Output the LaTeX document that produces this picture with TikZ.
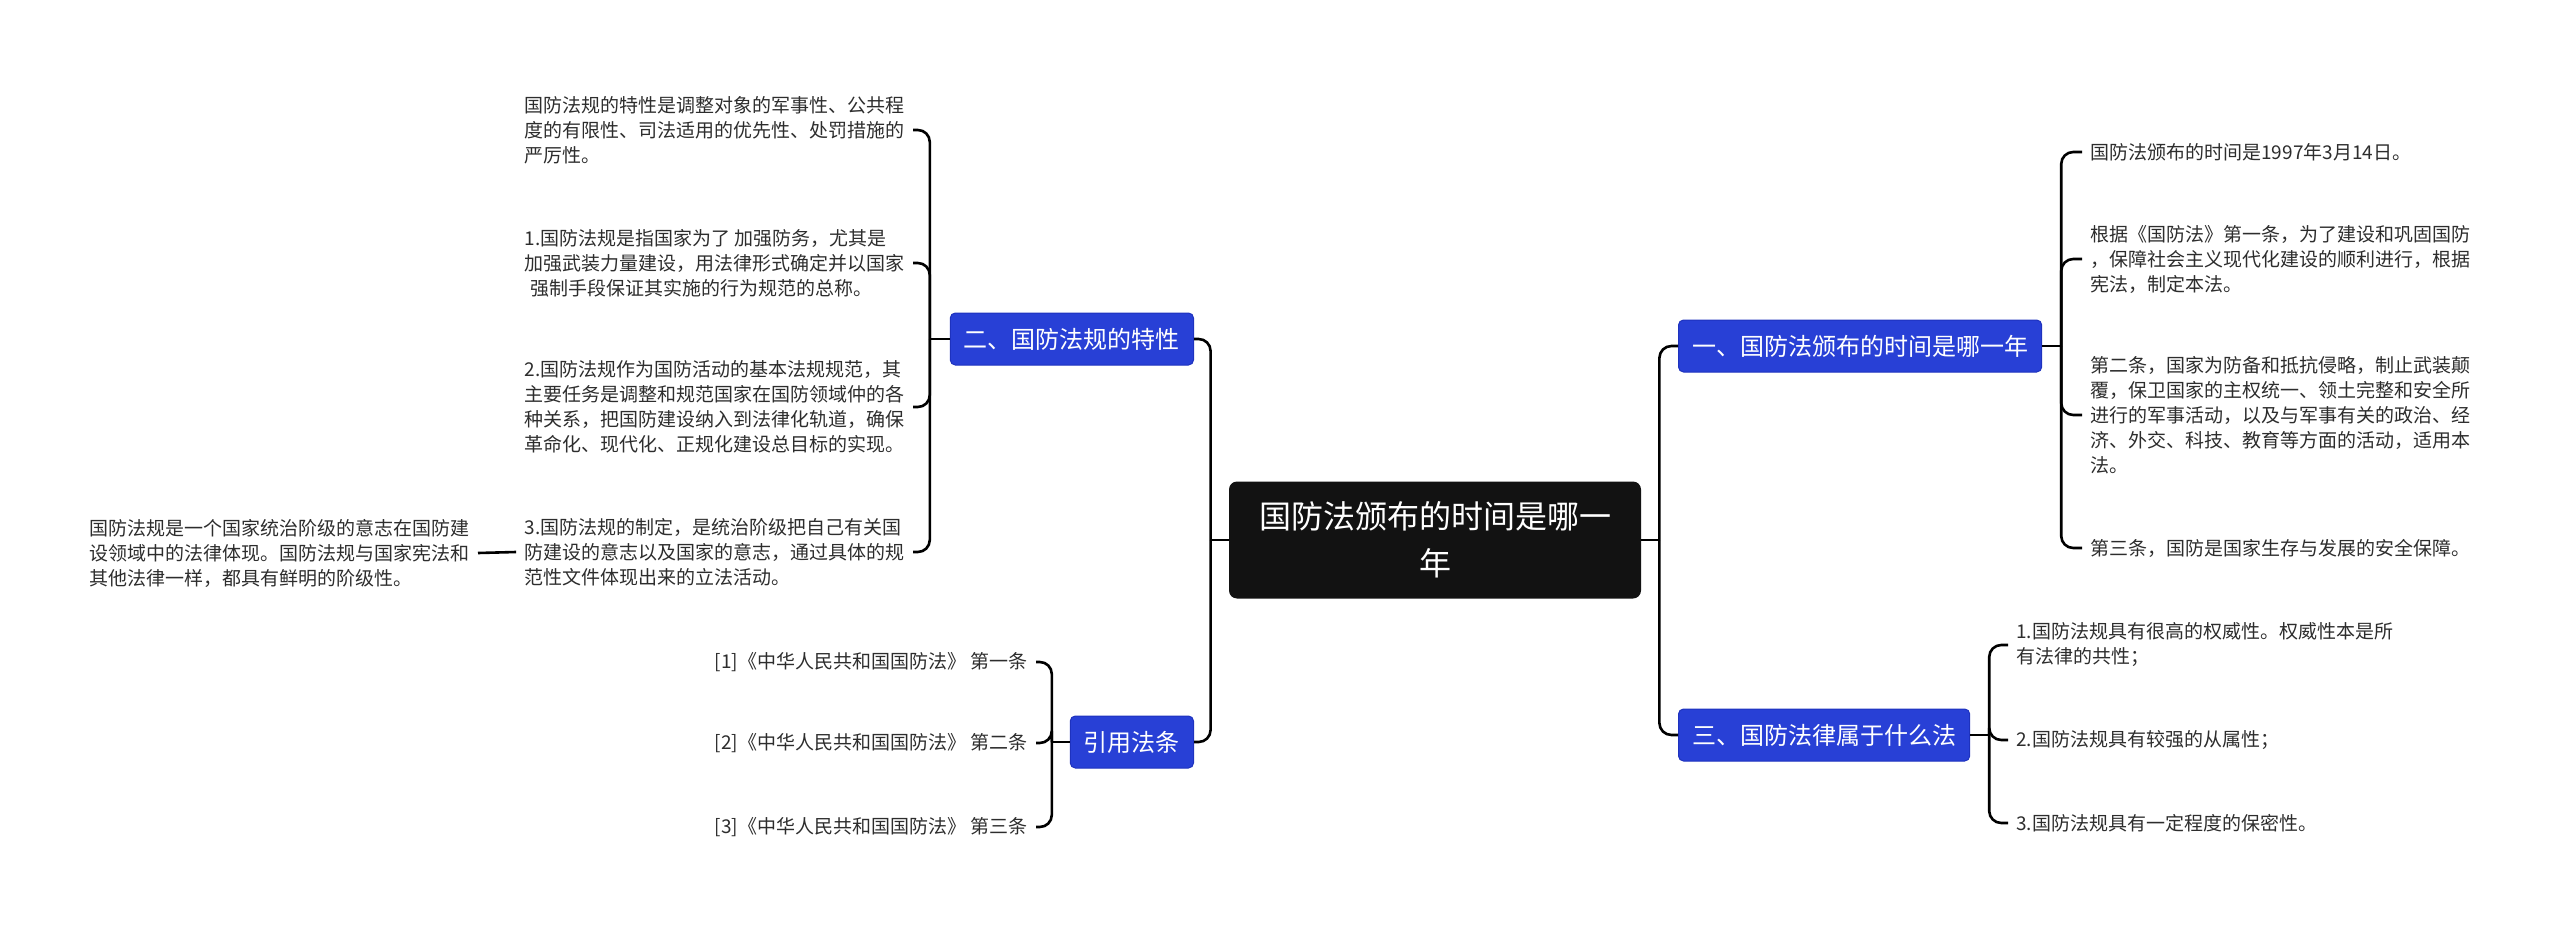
\documentclass[tikz,border=0pt]{standalone}
\usepackage{fontspec}
\setmainfont{Noto Sans CJK SC}
\definecolor{topicblue}{RGB}{40,64,214}
\definecolor{topicedge}{RGB}{30,50,190}
\definecolor{leaftext}{RGB}{45,45,45}
\tikzstyle{rootbox}=[fill=black!93, text=white, rounded corners=4pt, minimum width=206pt, minimum height=58.5pt, align=center, font=\fontsize{16pt}{23.5pt}\selectfont]
\tikzstyle{branch}=[fill=topicblue, draw=topicedge, line width=0.5pt, text=white, rounded corners=2.5pt, minimum height=26pt, inner xsep=6.8pt, font=\fontsize{12pt}{14pt}\selectfont]
\tikzstyle{leaf}=[text=leaftext, align=left, inner xsep=4pt, inner ysep=0pt, font=\fontsize{9.5pt}{12.5pt}\selectfont]
\tikzstyle{link}=[black, line width=1.3pt, rounded corners=6pt]

\begin{document}
\begin{tikzpicture}[x=0.5pt, y=-0.5pt]
				\useasboundingbox (0,0) rectangle (2560,931);
				\node[rootbox] (root) at (1435,540) {国防法颁布的时间是哪一\\年};
				\node[branch, anchor=west] (s1) at (1678,346) {一、国防法颁布的时间是哪一年};
				\node[branch, anchor=west] (s3) at (1678,735) {三、国防法律属于什么法};
				\node[branch, anchor=east] (s2) at (1194,339) {二、国防法规的特性};
				\node[branch, anchor=east] (s4) at (1194,742) {引用法条};
				\node[leaf, anchor=east] (a1) at (913,130) {国防法规的特性是调整对象的军事性、公共程\\度的有限性、司法适用的优先性、处罚措施的\\严厉性。};
				\node[leaf, anchor=east] (a2) at (913,263) {1.国防法规是指国家为了 加强防务，尤其是\\加强武装力量建设，用法律形式确定并以国家\\\hspace{0.3em}强制手段保证其实施的行为规范的总称。};
				\node[leaf, anchor=east] (a3) at (913,407) {2.国防法规作为国防活动的基本法规规范，其\\主要任务是调整和规范国家在国防领域仲的各\\种关系，把国防建设纳入到法律化轨道，确保\\革命化、现代化、正规化建设总目标的实现。};
				\node[leaf, anchor=east] (a4) at (913,552) {3.国防法规的制定，是统治阶级把自己有关国\\防建设的意志以及国家的意志，通过具体的规\\范性文件体现出来的立法活动。};
				\node[leaf, anchor=east] (a5) at (478,553) {国防法规是一个国家统治阶级的意志在国防建\\设领域中的法律体现。国防法规与国家宪法和\\其他法律一样，都具有鲜明的阶级性。};
				\node[leaf, anchor=east] (b1) at (1036,662) {[1]《中华人民共和国国防法》 第一条};
				\node[leaf, anchor=east] (b2) at (1036,743) {[2]《中华人民共和国国防法》 第二条};
				\node[leaf, anchor=east] (b3) at (1036,827) {[3]《中华人民共和国国防法》 第三条};
				\node[leaf, anchor=west] (c1) at (2082,152) {国防法颁布的时间是1997年3月14日。};
				\node[leaf, anchor=west] (c2) at (2082,259) {根据《国防法》第一条，为了建设和巩固国防\\，保障社会主义现代化建设的顺利进行，根据\\宪法，制定本法。};
				\node[leaf, anchor=west] (c3) at (2082,415) {第二条，国家为防备和抵抗侵略，制止武装颠\\覆，保卫国家的主权统一、领土完整和安全所\\进行的军事活动，以及与军事有关的政治、经\\济、外交、科技、教育等方面的活动，适用本\\法。};
				\node[leaf, anchor=west] (c4) at (2082,548) {第三条，国防是国家生存与发展的安全保障。};
				\node[leaf, anchor=west] (d1) at (2008,645) {1.国防法规具有很高的权威性。权威性本是所\\有法律的共性；};
				\node[leaf, anchor=west] (d2) at (2008,740) {2.国防法规具有较强的从属性；};
				\node[leaf, anchor=west] (d3) at (2008,823) {3.国防法规具有一定程度的保密性。};
				\draw[link] (root.west) -- ++(-18,0) coordinate (lj);
				\draw[link] (lj) |- (s2.east);
				\draw[link] (lj) |- (s4.east);
				\draw[link] (root.east) -- ++(18,0) coordinate (rj);
				\draw[link] (rj) |- (s1.west);
				\draw[link] (rj) |- (s3.west);
				\draw[link] (s2.west) -- ++(-20,0) coordinate (j2);
				\foreach \n in {a1,a2,a3,a4}
					\draw[link] (j2) |- (\n.east);
				\draw[link] (a4.west) -- (a5.east);
				\draw[link] (s4.west) -- ++(-18,0) coordinate (j4);
				\foreach \n in {b1,b2,b3}
					\draw[link] (j4) |- (\n.east);
				\draw[link] (s1.east) -- ++(19,0) coordinate (j1);
				\foreach \n in {c1,c2,c3,c4}
					\draw[link] (j1) |- (\n.west);
				\draw[link] (s3.east) -- ++(19,0) coordinate (j3);
				\foreach \n in {d1,d2,d3}
					\draw[link] (j3) |- (\n.west);
			\end{tikzpicture}
\end{document}
